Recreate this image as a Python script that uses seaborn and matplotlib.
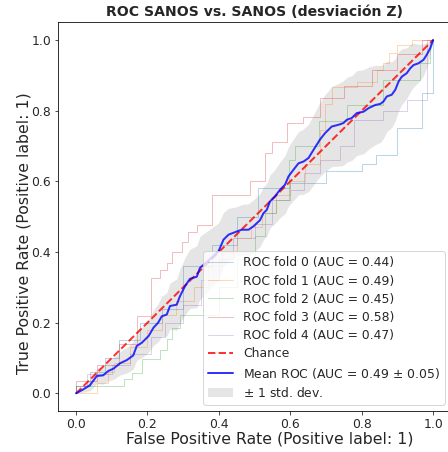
import numpy as np
import pandas as pd
import matplotlib
matplotlib.use("Agg")
import matplotlib.pyplot as plt
import seaborn as sns

sns.set_style("white")
plt.rcParams['font.family'] = ['DejaVu Sans']

title = "ROC SANOS vs. SANOS (desviación Z)"
xlabel = "False Positive Rate (Positive label: 1)"
ylabel = "True Positive Rate (Positive label: 1)"

aucs = [0.44, 0.49, 0.45, 0.58, 0.47]
fold_colors = ["#1f77b4", "#ff7f0e", "#2ca02c", "#d62728", "#9467bd"]

fold0_fpr = [0, 0, .04, .04, .08, .08, .12, .12, .18, .18, .24, .24, .30, .30, .38, .38, .45, .45,
             .51, .51, .60, .60, .70, .70, .80, .80, .84, .84, .90, .90, .97, .97, 1.0, 1.0]
fold0_tpr = [0, .02, .02, .06, .06, .10, .10, .15, .15, .20, .20, .24, .24, .36, .36, .42, .42, .50,
             .50, .58, .58, .595, .595, .63, .63, .65, .65, .675, .675, .75, .75, .85, .85, 1.0]

fold1_fpr = [0, .058, .058, .09, .09, .105, .105, .15, .15, .198, .198, .24, .24, .28, .28, .33, .33,
             .37, .37, .41, .41, .45, .45, .49, .49, .52, .52, .56, .56, .60, .60, .64, .64, .683,
             .683, .697, .697, .716, .716, .786, .786, .842, .842, .86, .86, .875, .875, .898, .898,
             .94, .94, 1.0]
fold1_tpr = [0, 0, .03, .03, .06, .06, .085, .085, .13, .13, .18, .18, .223, .223, .26, .26, .30,
             .30, .36, .36, .40, .40, .44, .44, .47, .47, .51, .51, .56, .56, .60, .60, .65, .65,
             .746, .746, .82, .82, .868, .868, .882, .882, .915, .915, .934, .934, .962, .962, .986,
             .986, 1.0, 1.0]

fold2_fpr = [0, 0, .133, .133, .156, .156, .184, .184, .235, .235, .254, .254, .27, .27, .29, .29,
             .40, .40, .45, .45, .50, .50, .53, .53, .56, .56, .595, .595, .613, .613, .68, .68,
             .758, .758, .86, .86, .964, .964, .99, .99, 1.0]
fold2_tpr = [0, .02, .02, .04, .04, .057, .057, .096, .096, .124, .124, .153, .153, .186, .186, .223,
             .223, .30, .30, .38, .38, .444, .444, .51, .51, .548, .548, .661, .661, .70, .70, .77,
             .77, .816, .816, .887, .887, .935, .935, 1.0, 1.0]

fold3_fpr = [0, 0, .06, .06, .12, .12, .17, .17, .21, .21, .235, .235, .254, .254, .27, .27, .296,
             .296, .314, .314, .338, .338, .38, .38, .487, .487, .53, .53, .548, .548, .59, .59,
             .636, .636, .683, .683, .75, .75, .83, .83, .90, .90, .97, .97, 1.0]
fold3_tpr = [0, .035, .035, .08, .08, .14, .14, .22, .22, .325, .325, .35, .35, .37, .37, .40, .40,
             .427, .427, .457, .457, .477, .477, .562, .562, .60, .60, .68, .68, .71, .71, .765,
             .765, .783, .783, .836, .836, .87, .87, .915, .915, .96, .96, 1.0, 1.0]

fold4_fpr = [0, 0, .03, .03, .10, .10, .15, .15, .21, .21, .25, .25, .30, .30, .35, .35, .40, .40,
             .44, .44, .50, .50, .55, .55, .60, .60, .637, .637, .683, .683, .74, .74, .777, .777,
             .86, .86, .926, .926, .982, .982, 1.0]
fold4_tpr = [0, .02, .02, .055, .055, .08, .08, .11, .11, .16, .16, .20, .20, .25, .25, .32, .32,
             .38, .38, .44, .44, .48, .48, .548, .548, .576, .576, .624, .624, .661, .661, .70, .70,
             .774, .774, .80, .80, .83, .83, 1.0, 1.0]

mean_fpr = [0, .02, .039, .058, .076, .09, .105, .123, .142, .16, .17, .184, .203, .217, .23, .24,
            .254, .263, .282, .291, .305, .319, .338, .347, .37, .399, .413, .427, .45, .464, .483,
            .497, .515, .525, .534, .543, .557, .571, .585, .595, .609, .623, .637, .651, .665,
            .683, .697, .716, .735, .749, .758, .772, .786, .805, .819, .838, .852, .861, .87,
            .884, .894, .903, .912, .926, .936, .945, .959, .973, .982, .992, 1.0]
mean_tpr = [0, .011, .023, .049, .051, .063, .07, .085, .094, .107, .134, .143, .162, .186, .20,
            .218, .223, .247, .251, .275, .303, .324, .33, .355, .375, .402, .435, .449, .458, .463,
            .463, .473, .49, .51, .519, .543, .557, .576, .59, .614, .633, .651, .656, .666, .689,
            .718, .736, .755, .76, .765, .774, .779, .793, .797, .807, .816, .819, .826, .84, .845,
            .859, .882, .896, .906, .92, .929, .934, .944, .958, .977, 1.0]
std_fpr = [0, .05, .1, .2, .25, .3, .35, .4, .45, .5, .55, .6, .65, .7, .75, .8, .85, .9, .95,
           .98, 1.0]
std_val = [0, .02, .03, .045, .06, .08, .09, .08, .07, .075, .075, .085, .095, .11, .12, .12, .11,
           .085, .06, .04, 0]

DPI = 72
fig = plt.figure(figsize=(448 / DPI, 452 / DPI), dpi=DPI)
ax = fig.add_axes([58.2 / 448, 41 / 452, 392.8 / 448, 388.7 / 452])

folds = [(fold0_fpr, fold0_tpr), (fold1_fpr, fold1_tpr), (fold2_fpr, fold2_tpr),
         (fold3_fpr, fold3_tpr), (fold4_fpr, fold4_tpr)]
for i, (f, t) in enumerate(folds):
    df = pd.DataFrame({"fpr": f, "tpr": t})
    sns.lineplot(data=df, x="fpr", y="tpr", sort=False, estimator=None, ax=ax,
                 color=fold_colors[i], alpha=0.3, lw=1,
                 label=f"ROC fold {i} (AUC = {aucs[i]:.2f})")

ax.plot([0, 1], [0, 1], linestyle="--", lw=2, color="r", alpha=0.8, label="Chance")

mdf = pd.DataFrame({"fpr": mean_fpr, "tpr": mean_tpr})
sns.lineplot(data=mdf, x="fpr", y="tpr", sort=False, estimator=None, ax=ax,
             color="b", lw=2, alpha=0.8, label="Mean ROC (AUC = 0.49 $\\pm$ 0.05)")

mf = np.array(mean_fpr)
mt = np.array(mean_tpr)
sd = np.interp(mf, std_fpr, std_val)
upper = np.minimum(mt + sd, 1)
lower = np.maximum(mt - sd, 0)
ax.fill_between(mf, lower, upper, color="grey", alpha=0.2, lw=0, label=r"$\pm$ 1 std. dev.")

ax.set_xlim(-0.05, 1.05)
ax.set_ylim(-0.05, 1.05)
ax.set_xticks([0, .2, .4, .6, .8, 1.0])
ax.set_yticks([0, .2, .4, .6, .8, 1.0])
ax.tick_params(axis="both", labelsize=12.4, length=3.5, width=0.8, pad=3.5, direction="out",
               bottom=True, left=True)
ax.set_xlabel(xlabel, fontsize=15.8, labelpad=0)
ax.set_ylabel(ylabel, fontsize=15.8, labelpad=0)
ax.xaxis.label.set_x(0.539)
ax.yaxis.label.set_y(0.458)
ax.set_title(title, fontsize=14, fontweight="bold", pad=6)
for s in ax.spines.values():
    s.set_color("black")
    s.set_linewidth(0.8)
ax.legend(loc="lower right", fontsize=12.4, labelspacing=0.42)

fig.savefig("out.png", dpi=DPI)
